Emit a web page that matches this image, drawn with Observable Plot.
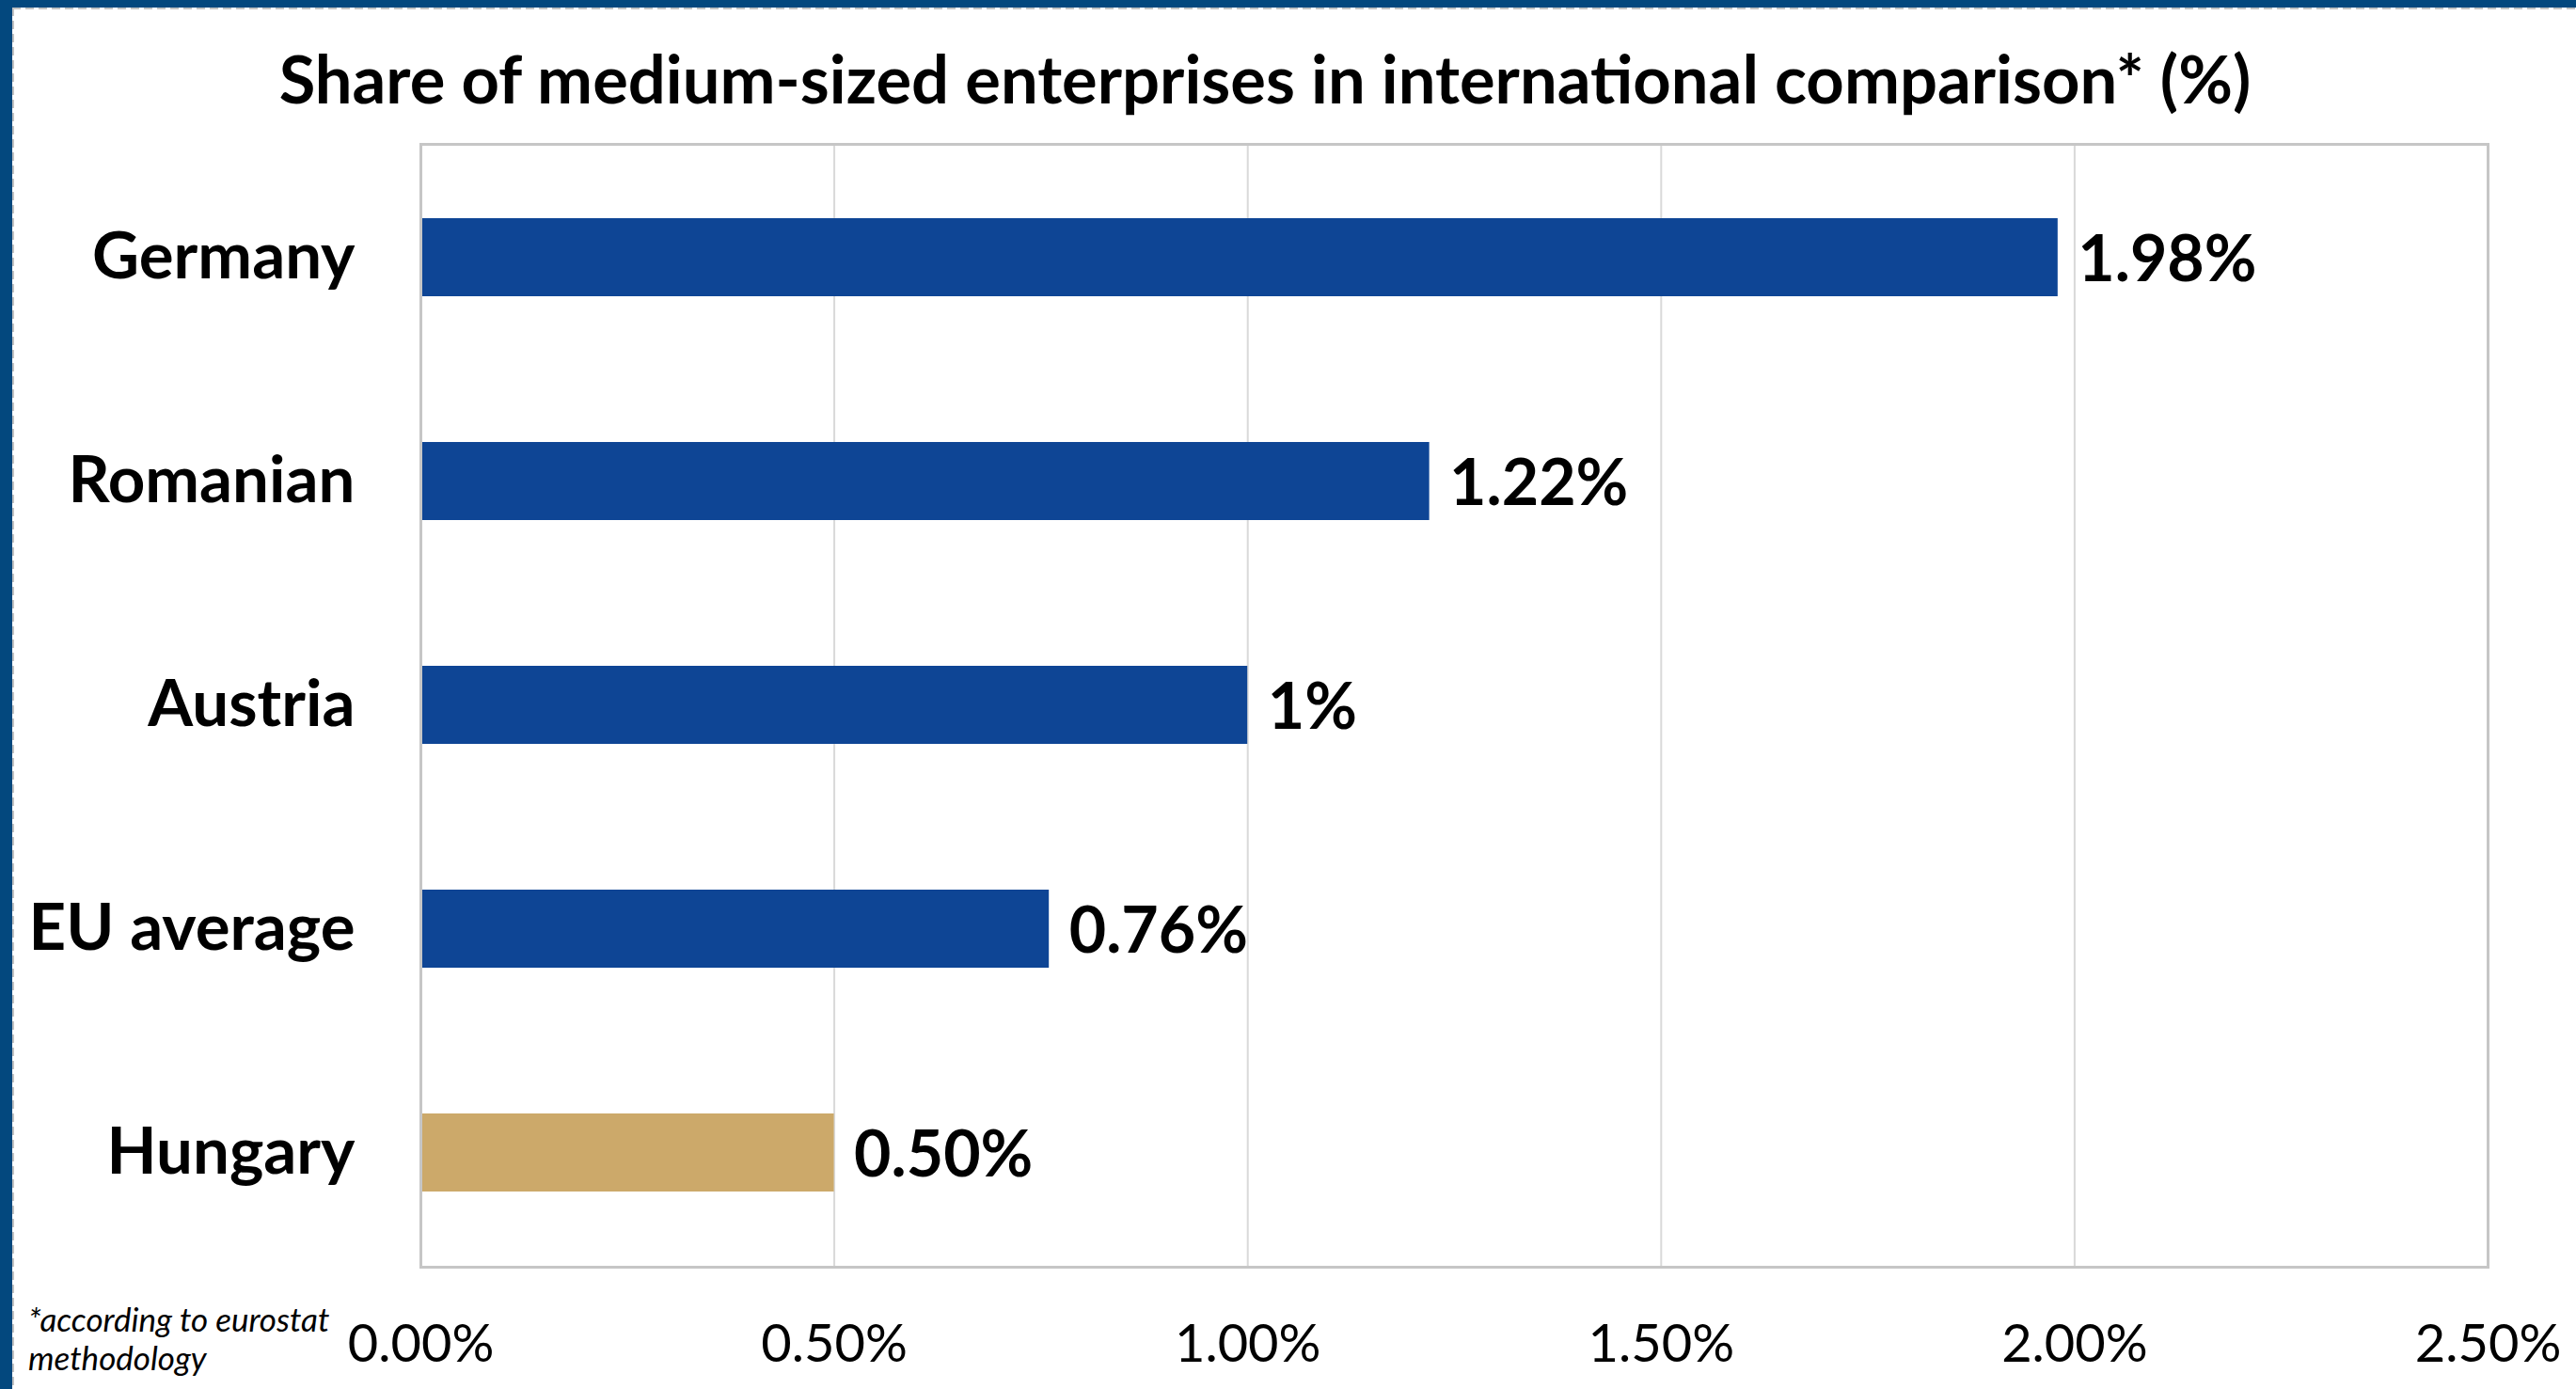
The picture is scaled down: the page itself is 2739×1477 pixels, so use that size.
<!DOCTYPE html>
<html>
<head>
<meta charset="utf-8">
<script src="https://cdn.jsdelivr.net/npm/d3@7"></script>
<script src="https://cdn.jsdelivr.net/npm/@observablehq/plot@0.6"></script>
<style>
  html, body { margin: 0; padding: 0; background: #fff; }
  #wrap { position: relative; width: 2739px; height: 1477px; overflow: hidden; background: #fff; font-family: Lato, "Open Sans", sans-serif; }
  #topband { position: absolute; left: 0; top: 0; width: 2739px; height: 8px; background: #03487e; }
  #leftband { position: absolute; left: 0; top: 0; width: 13px; height: 1477px; background: #03487e; }
  #dashtop { position: absolute; left: 13px; top: 8px; width: 2726px; height: 2px;
    background: repeating-linear-gradient(to right, #c2c2c2 0 9px, transparent 9px 14px); }
  #dashleft { position: absolute; left: 13px; top: 8px; width: 2px; height: 1469px;
    background: repeating-linear-gradient(to bottom, #c2c2c2 0 9px, transparent 9px 14px); }
  #title { position: absolute; left: 0; width: 2690px; text-align: center; top: 40px;
    font-size: 70.5px; font-weight: 700; color: #000; line-height: normal; white-space: nowrap; }
  #note { position: absolute; left: 30px; top: 1382px; font-size: 35px; font-style: italic;
    line-height: 41px; color: #000; white-space: nowrap; }
  #chart { position: absolute; left: 0; top: 0; }
</style>
</head>
<body>
<div id="wrap">
  <div id="chart"></div>
  <div id="topband"></div>
  <div id="leftband"></div>
  <div id="dashtop"></div>
  <div id="dashleft"></div>
  <div id="title"></div>
  <div id="note"></div>
</div>
<script>
const titleText = "Share of medium-sized enterprises in international comparison* (%)";
const noteLines = ["*according to eurostat", "methodology"];
const countries = ["Germany", "Romanian", "Austria", "EU average", "Hungary"];
const shares = [1.98, 1.22, 1.00, 0.76, 0.50];
const valueLabels = ["1.98%", "1.22%", "1%", "0.76%", "0.50%"];
const barColors = ["#0e4595", "#0e4595", "#0e4595", "#0e4595", "#cca96a"];
const xTicks = [0, 0.5, 1.0, 1.5, 2.0, 2.5];
const xTickLabels = ["0.00%", "0.50%", "1.00%", "1.50%", "2.00%", "2.50%"];

const data = countries.map((c, i) => ({country: c, share: shares[i], label: valueLabels[i], color: barColors[i]}));

document.getElementById("title").textContent = titleText;
document.getElementById("note").innerHTML = noteLines.join("<br>");

const chart = Plot.plot({
  width: 2739,
  height: 1477,
  marginLeft: 447,
  marginRight: 94,
  marginTop: 153,
  marginBottom: 130,
  style: {fontFamily: "Lato, 'Open Sans', sans-serif", background: "transparent", overflow: "visible", color: "#000"},
  x: {domain: [0, 2.5], ticks: xTicks, tickFormat: d => xTickLabels[xTicks.indexOf(d)]},
  y: {domain: countries, paddingInner: 0.65, paddingOuter: 0.325},
  color: {type: "identity"},
  marks: [
    Plot.gridX(xTicks, {stroke: "#d9d9d9", strokeOpacity: 1, strokeWidth: 2}),
    Plot.barX(data, {x: "share", y: "country", fill: "color"}),
    Plot.frame({stroke: "#c6c6c6", strokeWidth: 3}),
    Plot.axisY({tickSize: 0, tickPadding: 70, fontSize: 69, fontWeight: "bold", fill: "#000", label: null}),
    Plot.axisX({ticks: xTicks, tickSize: 0, tickPadding: 61, fontSize: 56, fill: "#000", label: null, tickFormat: d => xTickLabels[xTicks.indexOf(d)]}),
    Plot.text(data, {x: "share", y: "country", text: "label", dx: 21, dy: 3, textAnchor: "start", fontSize: 68, fontWeight: "bold", fill: "#000"})
  ]
});
document.getElementById("chart").appendChild(chart);
</script>
</body>
</html>
